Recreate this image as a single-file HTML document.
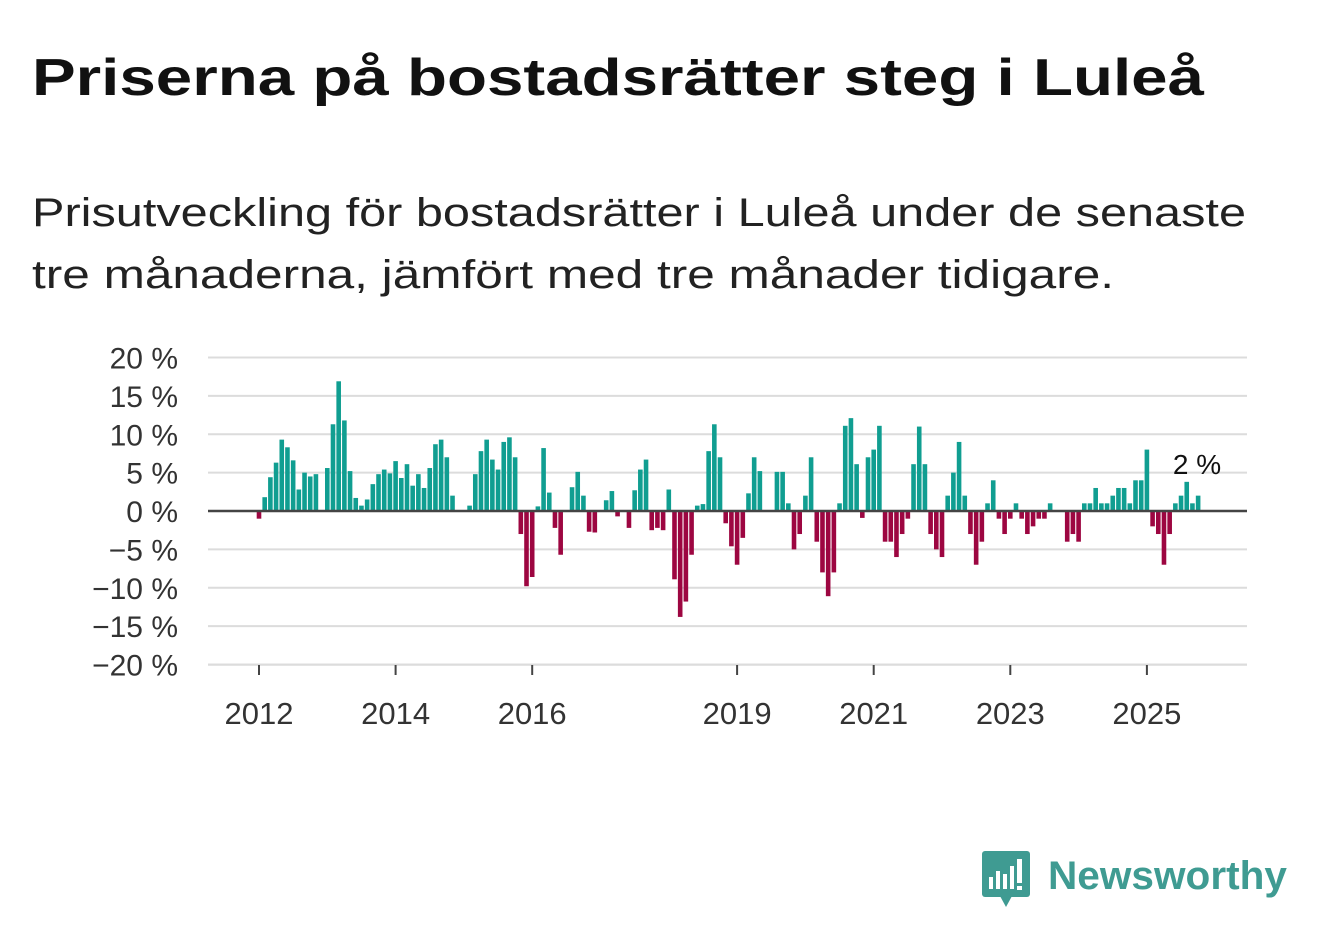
<!DOCTYPE html>
<html><head><meta charset="utf-8"><style>
body{margin:0;background:#fff;}
svg{display:block;font-family:"Liberation Sans",sans-serif;}
</style></head><body>
<svg width="1322" height="939" viewBox="0 0 1322 939">
<text x="32" y="95" font-size="52" font-weight="bold" fill="#111" textLength="1172" lengthAdjust="spacingAndGlyphs">Priserna på bostadsrätter steg i Luleå</text>
<text x="32" y="226" font-size="40" fill="#222" textLength="1214" lengthAdjust="spacingAndGlyphs">Prisutveckling för bostadsrätter i Luleå under de senaste</text>
<text x="32" y="288" font-size="40" fill="#222" textLength="1082" lengthAdjust="spacingAndGlyphs">tre månaderna, jämfört med tre månader tidigare.</text>
<g id="grid"></g>
<g id="bars"></g>
<g id="axes"></g>
<text x="1197" y="474" font-size="28" fill="#111" text-anchor="middle">2 %</text>
<g>
<rect x="982" y="851" width="48" height="46" rx="3" fill="#3f9b92"/>
<polygon points="1000,896 1012,896 1006,907" fill="#3f9b92"/>
<rect x="989" y="877" width="4" height="12" fill="#fff"/><rect x="996" y="871" width="4" height="18" fill="#fff"/><rect x="1003" y="874" width="4" height="15" fill="#fff"/><rect x="1010" y="866" width="4" height="23" fill="#fff"/><rect x="1017" y="859" width="5" height="24" fill="#fff"/><rect x="1017" y="886" width="5" height="4" fill="#fff"/>
<text x="1048" y="889" font-size="40" font-weight="bold" fill="#3f9b92" textLength="239" lengthAdjust="spacingAndGlyphs">Newsworthy</text>
</g>
</svg>
<script>
const values = [-1,1.8,4.4,6.3,9.3,8.3,6.6,2.8,5,4.5,4.8,0,5.6,11.3,16.9,11.8,5.2,1.7,0.7,1.5,3.5,4.8,5.4,4.9,6.5,4.3,6.1,3.3,4.8,3,5.6,8.7,9.3,7,2,0,0,0.7,4.8,7.8,9.3,6.7,5.4,9,9.6,7,-3,-9.8,-8.6,0.6,8.2,2.4,-2.2,-5.7,0,3.1,5.1,2,-2.7,-2.8,0,1.4,2.6,-0.7,0,-2.2,2.7,5.4,6.7,-2.5,-2.2,-2.5,2.8,-8.9,-13.8,-11.8,-5.7,0.7,0.9,7.8,11.3,7,-1.6,-4.6,-7,-3.5,2.3,7,5.2,0,0,5.1,5.1,1,-5,-3,2,7,-4,-8,-11.1,-8,1,11.1,12.1,6.1,-0.9,7,8,11.1,-4,-4,-6,-3,-1,6.1,11,6.1,-3,-5,-6,2,5,9,2,-3,-7,-4,1,4,-1,-3,-1,1,-1,-3,-2,-1,-1,1,0,0,-4,-3,-4,1,1,3,1,1,2,3,3,1,4,4,8,-2,-3,-7,-3,1,2,3.8,1,2];
const startYear = 2012;
const yTicks = [20,15,10,5,0,-5,-10,-15,-20];
const yTickLabels = ["20 %","15 %","10 %","5 %","0 %","−5 %","−10 %","−15 %","−20 %"];
const xTickYears = [2012,2014,2016,2019,2021,2023,2025];
const NS="http://www.w3.org/2000/svg";
const y = v => 511 - v*7.675;
const xYear = yr => 259 + (yr-2012)*68.3;
const xMonth = i => xYear(startYear + i/12);
function mk(tag, attrs, parent){const e=document.createElementNS(NS,tag);for(const k in attrs)e.setAttribute(k,attrs[k]);parent.appendChild(e);return e;}
const grid=document.getElementById('grid'), bars=document.getElementById('bars'), axes=document.getElementById('axes');
yTicks.forEach((t,k)=>{
  if(t!==0){const l=mk('line',{x1:208,x2:1247,y1:y(t),y2:y(t),stroke:'#dcdcdc','stroke-width':2},grid);
  
  }
  const tx=mk('text',{x:178,y:y(t)+11,'font-size':30,fill:'#333','text-anchor':'end'},axes);
  tx.textContent=yTickLabels[k];
  
  
});
values.forEach((v,i)=>{
  if(v===0)return;
  const r=mk('rect',{x:xMonth(i)-2.3,width:4.6,y:Math.min(y(v),y(0)),height:Math.abs(y(v)-y(0)),fill:v>0?'#109e91':'#9d0641'},bars);
  
  
});
const z=mk('line',{x1:208,x2:1247,y1:y(0),y2:y(0),stroke:'#444','stroke-width':2.5},axes);


const bl=mk('line',{x1:208,x2:1247,y1:665,y2:665,stroke:'#dcdcdc','stroke-width':1.5},axes);


xTickYears.forEach(yr=>{
  const t=mk('line',{x1:xYear(yr),x2:xYear(yr),y1:665,y2:675,stroke:'#444','stroke-width':2},axes);
  
  
  const tx=mk('text',{x:xYear(yr),y:724,'font-size':31,fill:'#333','text-anchor':'middle'},axes);
  tx.textContent=yr;
  
  
});
</script>
</body></html>
